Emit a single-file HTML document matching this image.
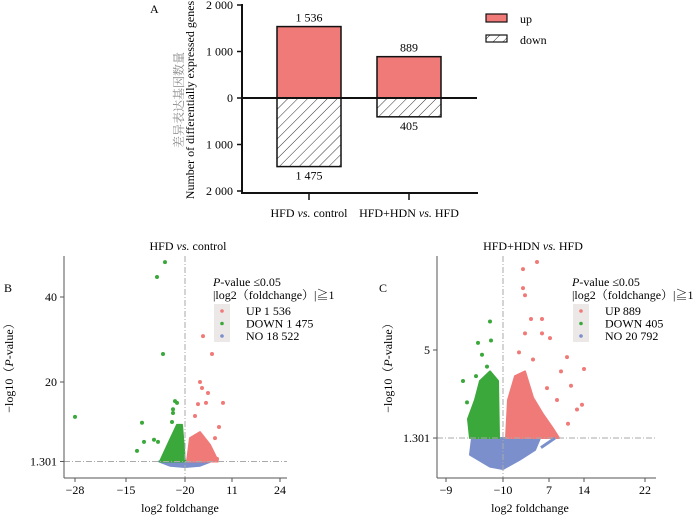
<!DOCTYPE html>
<html><head><meta charset="utf-8"><style>
html,body{margin:0;padding:0;background:#fff}
svg{display:block;font-family:"Liberation Serif","Noto Serif CJK SC",serif}
</style></head><body>
<svg id="c" width="700" height="516" viewBox="0 0 700 516">
<defs><pattern id="hatch" patternUnits="userSpaceOnUse" width="7" height="7" patternTransform="rotate(45)"><rect width="7" height="7" fill="#fff"/><line x1="0" y1="0" x2="0" y2="7" stroke="#333" stroke-width="1"/></pattern></defs>
</svg>
<script>
// ---------- Panel A data ----------
const barCategories = ["HFD vs. control", "HFD+HDN vs. HFD"];
const upValues = [1536, 889];
const downValues = [1475, 405];
const upLabels = ["1 536", "889"];
const downLabels = ["1 475", "405"];
const aTickValues = [2000, 1000, 0, -1000, -2000];
const aTickLabels = ["2 000", "1 000", "0", "1 000", "2 000"];

// ---------- Panel B data ----------
const bXTickVals = [-2.2, -1.18, 0, 0.94, 1.9];
const bXTickLabels = ["\u221228", "\u221215", "\u221220", "11", "24"];
const bYTickVals = [40, 20, 1.301];
const bYTickLabels = ["40", "20", "1.301"];
const bDownX = [-0.4,-0.56,-0.44,-2.2,-0.86,-0.82,-0.96,-0.62,-0.54,-0.2,-0.16,-0.24,-0.24,-0.26];
const bDownY = [48.2,44.7,26.6,11.8,10.4,5.9,3.8,6.4,5.9,15.5,15.1,13.6,12.7,10.6];
const bUpX = [0.36,0.54,0.3,0.34,0.46,0.26,0.42,0.76,0.68,0.6,0.64,0.2];
const bUpY = [30.8,26.6,20.0,18.6,17.4,14.8,15.1,15.1,9.4,6.8,1.9,12.0];
const bDownCloudX = [-0.5,-0.3,-0.16,-0.06,0];
const bDownCloudY = [1.3,6.4,9.9,9.9,1.3];
const bUpCloudX = [0.04,0.1,0.3,0.5,0.6,0.66];
const bUpCloudY = [1.3,6.8,8.2,5.2,2.8,1.3];
const bNoCloudX = [-0.52,-0.3,0,0.3,0.52,0.3,0,-0.3];
const bNoCloudY = [1.3,1.45,1.45,1.45,1.3,0.3,0.0,0.3];

// ---------- Panel C data ----------
const cXTickVals = [-5.7, 0, 4.6, 8.1, 14.2];
const cXTickLabels = ["\u22129", "\u221210", "7", "14", "22"];
const cYTickVals = [5, 1.301];
const cYTickLabels = ["5", "1.301"];
const cUpX = [3.4,2.0,2.0,2.2,2.8,3.9,3.9,4.7,2.2,6.4,8.1,5.8,6.8,7.9,7.4,6.5,5.1,1.6,3.0,4.4,5.4];
const cUpY = [8.7,8.4,7.6,7.3,6.3,6.3,5.7,5.5,5.7,4.7,4.2,4.1,3.5,2.7,2.5,1.9,1.5,4.9,4.6,3.4,2.9];
const cDownX = [-1.3,-2.5,-1.2,-4.0,-3.6,-2.1,-1.6,-2.7];
const cDownY = [6.2,5.3,5.4,3.7,2.8,4.8,4.3,3.9];
const cDownCloudX = [-3.3,-3.5,-2.8,-2.3,-1.3,-0.5,-0.4];
const cDownCloudY = [1.3,2.1,2.9,3.7,4.1,3.7,1.3];
const cUpCloudX = [0.3,0.5,1.2,2.2,3.0,4.0,5.0,5.6];
const cUpCloudY = [1.3,2.9,3.9,4.1,3.0,2.3,1.7,1.3];
const cNoCloudX = [-3.1,-3.3,-1.3,0,1.7,3.2,3.7];
const cNoCloudY = [1.3,0.6,0.1,0,0.4,0.8,1.3];
const cStreakX = [3.8,5.2];
const cStreakY = [0.9,1.3];

const NS = "http://www.w3.org/2000/svg";
const svg = document.getElementById('c');
function mk(tag, attrs, parent, text) {
  const e = document.createElementNS(NS, tag);
  for (const k in attrs) e.setAttribute(k, attrs[k]);
  if (text !== undefined) e.textContent = text;
  (parent || svg).appendChild(e);
  return e;
}
const RED = "#f07a78", GREEN = "#3aa83a", BLUE = "#7a8fcc";

// ================= Panel A =================
const gA = mk('g', {});


const aY = v => 98 - v * (93 / 2000);
const aBand = i => [277, 377][i];
const aBarW = 64;
let t = mk('text', {x: 150, y: 13, 'font-size': 12}, gA, 'A');


aTickValues.forEach((v, i) => {
  let l = mk('line', {x1: 237, x2: 243, y1: aY(v), y2: aY(v), stroke: '#111', 'stroke-width': 1.5}, gA);
  
  
  let tx = mk('text', {x: 233, y: aY(v) + 4, 'text-anchor': 'end', 'font-size': 12}, gA, aTickLabels[i]);
  
  
});
barCategories.forEach((c, i) => {
  const x = aBand(i);
  let r = mk('rect', {x: x, y: aY(upValues[i]), width: aBarW, height: aY(0) - aY(upValues[i]), fill: RED, stroke: '#111', 'stroke-width': 1.5}, gA);
  
  
  let d = mk('rect', {x: x, y: aY(0), width: aBarW, height: aY(-downValues[i]) - aY(0), fill: 'url(#hatch)', stroke: '#111', 'stroke-width': 1.5}, gA);
  
  
  let ul = mk('text', {x: x + aBarW / 2, y: aY(upValues[i]) - 5, 'text-anchor': 'middle', 'font-size': 12}, gA, upLabels[i]);
  
  
  let dl = mk('text', {x: x + aBarW / 2, y: aY(-downValues[i]) + 13, 'text-anchor': 'middle', 'font-size': 12}, gA, downLabels[i]);
  
  
  let tk = mk('line', {x1: x + aBarW / 2, x2: x + aBarW / 2, y1: 193, y2: 200, stroke: '#111', 'stroke-width': 1.5}, gA);
  
  
  const parts = c.split(' vs. ');
  let ct = mk('text', {x: x + aBarW / 2, y: 217, 'text-anchor': 'middle', 'font-size': 12}, gA);
  
  
  mk('tspan', {}, ct, parts[0] + ' ');
  mk('tspan', {'font-style': 'italic'}, ct, 'vs.');
  mk('tspan', {}, ct, ' ' + parts[1]);
});
let ax = mk('line', {x1: 242, x2: 242, y1: 4, y2: 194, stroke: '#111', 'stroke-width': 2}, gA);


let bx = mk('line', {x1: 242, x2: 478, y1: 193, y2: 193, stroke: '#111', 'stroke-width': 2}, gA);


let zx = mk('line', {x1: 242, x2: 477, y1: aY(0), y2: aY(0), stroke: '#111', 'stroke-width': 2}, gA);


let yt1 = mk('text', {transform: 'translate(183,100) rotate(-90)', 'text-anchor': 'middle', 'font-size': 12, fill: '#888'}, gA, '差异表达基因数量');


let yt2 = mk('text', {transform: 'translate(194,100) rotate(-90)', 'text-anchor': 'middle', 'font-size': 12}, gA, 'Number of differentially expressed genes');


let lg1 = mk('rect', {x: 486, y: 14, width: 21, height: 8, fill: RED, stroke: '#111', 'stroke-width': 1.2}, gA);


let lg2 = mk('rect', {x: 486, y: 35, width: 21, height: 7, fill: 'url(#hatch)', stroke: '#111', 'stroke-width': 1.2}, gA);


let lt1 = mk('text', {x: 520, y: 23, 'font-size': 12}, gA, 'up');


let lt2 = mk('text', {x: 520, y: 44, 'font-size': 12}, gA, 'down');



// ================= Volcano helper =================
function volcano(cfg) {
  const g = mk('g', {});
  
  
  const X = v => cfg.x0 + v * cfg.xs, Y = v => cfg.y0 - v * cfg.ys;
  const poly = (xs, ys, fill, nm) => {
    let p = mk('polygon', {points: xs.map((x, i) => X(x) + ',' + Y(ys[i])).join(' '), fill: fill, stroke: fill, 'stroke-width': 2, 'stroke-linejoin': 'round'}, g);
    
    
  };
  poly(cfg.noX, cfg.noY, BLUE, 'no-cloud');
  poly(cfg.dnX, cfg.dnY, GREEN, 'down-cloud');
  poly(cfg.upX, cfg.upY, RED, 'up-cloud');
  if (cfg.stX) {
    let s = mk('line', {x1: X(cfg.stX[0]), y1: Y(cfg.stY[0]), x2: X(cfg.stX[1]), y2: Y(cfg.stY[1]), stroke: BLUE, 'stroke-width': 3}, g);
    
    
  }
  const pts = (xs, ys, fill, nm) => xs.forEach((x, i) => {
    let c = mk('circle', {cx: X(x), cy: Y(ys[i]), r: 2, fill: fill}, g);
    
    
  });
  pts(cfg.ptDX, cfg.ptDY, GREEN, 'down-point');
  pts(cfg.ptUX, cfg.ptUY, RED, 'up-point');
  let h = mk('line', {x1: cfg.left, x2: cfg.right, y1: Y(1.301), y2: Y(1.301), stroke: '#aaa', 'stroke-dasharray': '6,2,1,2'}, g);
  
  
  let v = mk('line', {x1: X(0), x2: X(0), y1: cfg.top, y2: cfg.bottom, stroke: '#aaa', 'stroke-dasharray': '6,2,1,2'}, g);
  
  
  let ya = mk('line', {x1: cfg.left, x2: cfg.left, y1: cfg.top, y2: cfg.bottom, stroke: '#555', 'stroke-width': 1}, g);
  
  
  let xa = mk('line', {x1: cfg.left, x2: cfg.right, y1: cfg.bottom, y2: cfg.bottom, stroke: '#555', 'stroke-width': 1}, g);
  
  
  cfg.xtv.forEach((tv, i) => {
    let l = mk('line', {x1: X(tv), x2: X(tv), y1: cfg.bottom, y2: cfg.bottom + 4, stroke: '#555'}, g);
    
    
    let tx = mk('text', {x: X(tv), y: cfg.bottom + 16, 'text-anchor': 'middle', 'font-size': 12}, g, cfg.xtl[i]);
    
    
  });
  cfg.ytv.forEach((tv, i) => {
    let l = mk('line', {x1: cfg.left - 4, x2: cfg.left, y1: Y(tv), y2: Y(tv), stroke: '#555'}, g);
    
    
    let tx = mk('text', {x: cfg.left - 7, y: Y(tv) + 4, 'text-anchor': 'end', 'font-size': 12}, g, cfg.ytl[i]);
    
    
  });
  const parts = cfg.title.split(' vs. ');
  let tt = mk('text', {x: cfg.titleX, y: 250, 'text-anchor': 'middle', 'font-size': 12}, g);
  
  
  mk('tspan', {}, tt, parts[0] + ' ');
  mk('tspan', {'font-style': 'italic'}, tt, 'vs.');
  mk('tspan', {}, tt, ' ' + parts[1]);
  let pl = mk('text', {x: cfg.letterX, y: 292, 'font-size': 12}, g, cfg.letter);
  
  
  let yl = mk('text', {transform: 'translate(' + cfg.ylX + ',365) rotate(-90)', 'text-anchor': 'middle', 'font-size': 12}, g);
  
  
  mk('tspan', {}, yl, '\u2212log10\uff08');
  mk('tspan', {'font-style': 'italic'}, yl, 'P');
  mk('tspan', {}, yl, '-value\uff09');
  let xl = mk('text', {x: cfg.xlX, y: 512, 'text-anchor': 'middle', 'font-size': 12}, g, 'log2 foldchange');
  
  
  // legend
  const L = cfg.legX;
  let l1 = mk('text', {x: L, y: 286, 'font-size': 12}, g);
  
  
  mk('tspan', {'font-style': 'italic'}, l1, 'P');
  mk('tspan', {}, l1, '-value \u2264' + '0.05');
  let l2 = mk('text', {x: L, y: 299, 'font-size': 12}, g, '|log2\uff08foldchange\uff09|\u22671');
  
  
  let bg = mk('rect', {x: L + 1, y: 304, width: 16, height: 38, fill: '#ece8e8'}, g);
  
  
  [[RED, cfg.legUp], [GREEN, cfg.legDn], [BLUE, cfg.legNo]].forEach((e, i) => {
    let c = mk('circle', {cx: L + 9, cy: 311 + i * 12.5, r: 1.8, fill: e[0]}, g);
    
    
    let tx = mk('text', {x: L + 33, y: 315 + i * 12.5, 'font-size': 12}, g, e[1]);
    
    
  });
}

volcano({name: 'volcano-b', x0: 185, xs: 50, y0: 467, ys: 4.25, left: 64, right: 287, top: 256, bottom: 478,
  noX: bNoCloudX, noY: bNoCloudY, dnX: bDownCloudX, dnY: bDownCloudY, upX: bUpCloudX, upY: bUpCloudY,
  ptDX: bDownX, ptDY: bDownY, ptUX: bUpX, ptUY: bUpY,
  xtv: bXTickVals, xtl: bXTickLabels, ytv: bYTickVals, ytl: bYTickLabels,
  title: 'HFD vs. control', titleX: 188, letter: 'B', letterX: 4, ylX: 13, xlX: 180,
  legX: 213, legUp: 'UP 1 536', legDn: 'DOWN 1 475', legNo: 'NO 18 522'});

volcano({name: 'volcano-c', x0: 503, xs: 10, y0: 469, ys: 23.8, left: 437, right: 656, top: 256, bottom: 478,
  noX: cNoCloudX, noY: cNoCloudY, dnX: cDownCloudX, dnY: cDownCloudY, upX: cUpCloudX, upY: cUpCloudY,
  stX: cStreakX, stY: cStreakY,
  ptDX: cDownX, ptDY: cDownY, ptUX: cUpX, ptUY: cUpY,
  xtv: cXTickVals, xtl: cXTickLabels, ytv: cYTickVals, ytl: cYTickLabels,
  title: 'HFD+HDN vs. HFD', titleX: 533, letter: 'C', letterX: 379, ylX: 392, xlX: 530,
  legX: 572, legUp: 'UP 889', legDn: 'DOWN 405', legNo: 'NO 20 792'});
</script>
</body></html>
